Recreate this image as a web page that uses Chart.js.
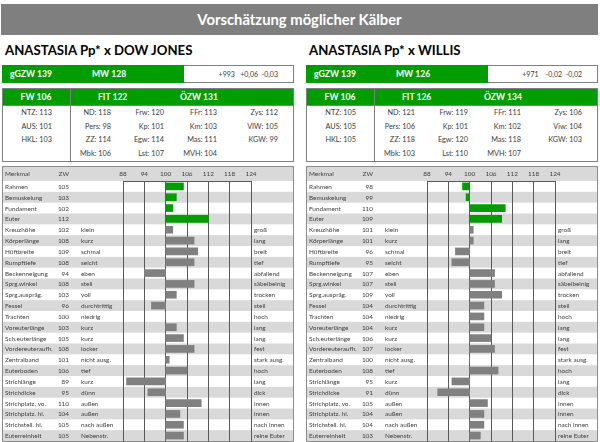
<!DOCTYPE html>
<html><head><meta charset="utf-8">
<script src="https://cdn.jsdelivr.net/npm/chart.js@4.4.1/dist/chart.umd.min.js"></script>
<style>
html,body{margin:0;padding:0;background:#fff;width:600px;height:442px;overflow:hidden;font-family:Lato,"Open Sans",sans-serif;}
#title{position:absolute;left:1px;top:4px;width:597px;height:31px;background:#7f7f7f;color:#fff;font-weight:bold;font-size:14.8px;line-height:31px;text-align:center;}
.panel{position:absolute;top:0;width:292px;height:442px;}
.t{position:absolute;white-space:pre;line-height:1;}
.box{position:absolute;box-sizing:border-box;border:1px solid #7f7f7f;background:#fff;}
.frame{position:absolute;left:0;top:166px;width:292px;height:276px;box-sizing:border-box;border:1px solid #8c8c8c;pointer-events:none;}
.cw{position:absolute;left:0;top:166px;width:292px;height:276px;}
</style>
</head><body>
<div id="title">Vorschätzung möglicher Kälber</div>
<div class="panel" id="p1" style="left:2px"></div>
<div class="panel" id="p2" style="left:306px"></div>
<script>
// ---------- data ----------
const merkmale = ["Rahmen","Bemuskelung","Fundament","Euter","Kreuzhöhe","Körperlänge","Hüftbreite","Rumpftiefe","Beckenneigung","Sprg.winkel","Sprg.auspräg.","Fessel","Trachten","Voreuterlänge","Sch.euterlänge","Vordereuteraufh.","Zentralband","Euterboden","Strichlänge","Strichdicke","Strichplatz. vo.","Strichplatz. hi.","Strichstell. hi.","Euterreinheit"];
const lowLabels = ["","","","","klein","kurz","schmal","seicht","eben","steil","voll","durchtrittig","niedrig","kurz","kurz","locker","nicht ausg.","tief","kurz","dünn","außen","außen","nach außen","Nebenstr."];
const highLabels = ["","","","","groß","lang","breit","tief","abfallend","säbelbeinig","trocken","steil","hoch","lang","lang","fest","stark ausg.","hoch","lang","dick","innen","innen","nach innen","reine Euter"];
const zwDowJones = [105,103,102,112,102,108,109,108,94,108,103,96,100,103,105,108,101,106,89,95,110,104,105,105];
const zwWillis = [98,99,110,109,101,101,96,95,107,107,109,104,104,104,106,107,100,108,95,91,105,104,104,103];
const xTicks = [88,94,100,106,112,118,124];
const baseValue = 100;
const greenRows = 4;

const titleDowJones = "ANASTASIA Pp* x DOW JONES";
const titleWillis = "ANASTASIA Pp* x WILLIS";
const topDowJones = ["gGZW 139","MW 128","+993   +0,06  -0,03"];
const topWillis = ["gGZW 139","MW 126","+971    -0,02  -0,02"];
const headDowJones = ["FW 106","FIT 122","ÖZW 131"];
const headWillis = ["FW 106","FIT 126","ÖZW 134"];
const detailDowJones = [
  ["NTZ: 113","AUS: 101","HKL: 103",""],
  ["ND: 118","Pers: 98","ZZ: 114","Mbk: 106"],
  ["Frw: 120","Kp: 101","Egw: 114","Lst: 107"],
  ["FFr: 113","Km: 103","Mas: 111","MVH: 104"],
  ["Zys: 112","VIW: 105","KGW: 99",""]
];
const detailWillis = [
  ["NTZ: 105","AUS: 105","HKL: 105",""],
  ["ND: 121","Pers: 106","ZZ: 118","Mbk: 103"],
  ["Frw: 119","Kp: 101","Egw: 120","Lst: 110"],
  ["FFr: 111","Km: 102","Mas: 118","MVH: 107"],
  ["Zys: 106","Viw: 104","KGW: 103",""]
];

// ---------- styles ----------
const GREEN = '#009c00', BARGRAY = '#808080', ROWGRAY = '#d9d9d9', TXT = '#404040', GRID = '#595959';
const FONT = 'Lato, "Open Sans", sans-serif';

function txt(parent, s, x, y, o) {
  const d = document.createElement('div');
  d.className = 't';
  d.textContent = s;
  d.style.fontSize = (o.size || 7.3) + 'px';
  d.style.fontWeight = o.bold ? 'bold' : 'normal';
  d.style.color = o.color || TXT;
  d.style.top = y + 'px';
  let tx = '0';
  if (o.align === 'right') { d.style.right = (292 - x) + 'px'; }
  else if (o.align === 'center') { d.style.left = x + 'px'; tx = '-50%'; }
  else { d.style.left = x + 'px'; }
  d.style.transform = `translate(${tx},-50%)`;
  parent.appendChild(d);
}
function rect(parent, cls, x, y, w, h, css) {
  const d = document.createElement('div');
  d.className = cls;
  d.style.cssText += `left:${x}px;top:${y}px;width:${w}px;height:${h}px;` + (css || '');
  parent.appendChild(d);
  return d;
}

const tablePlugin = {
  id: 'table',
  beforeDraw(chart, args, opts) {
    const {ctx, chartArea, scales} = chart;
    const y = scales.y, W = chart.width, n = merkmale.length;
    const h = (chartArea.bottom - chartArea.top) / n;
    ctx.save();
    ctx.fillStyle = ROWGRAY;
    ctx.fillRect(0, 0, W, chartArea.top);
    for (let i = 0; i < n; i++) {
      if (i % 2 === 1) { const yc = y.getPixelForValue(i); ctx.fillRect(0, yc - h / 2, W, h); }
    }
    ctx.restore();
  },
  afterDraw(chart, args, opts) {
    const {ctx, chartArea, scales} = chart;
    const y = scales.y, n = merkmale.length;
    ctx.save();
    ctx.font = `6.4px ${FONT}`;
    ctx.fillStyle = TXT;
    ctx.textBaseline = 'middle';
    const hy = chartArea.top / 2 + 0.5;
    ctx.textAlign = 'left'; ctx.fillText('Merkmal', 3, hy);
    ctx.textAlign = 'right'; ctx.fillText('ZW', 67, hy);
    for (let i = 0; i < n; i++) {
      const yc = y.getPixelForValue(i) + 0.5;
      ctx.textAlign = 'left';
      ctx.fillText(merkmale[i], 3, yc);
      ctx.fillText(lowLabels[i], 79, yc);
      ctx.fillText(highLabels[i], 252, yc);
      ctx.textAlign = 'right';
      ctx.fillText(String(opts.zw[i]), 67, yc);
    }
    ctx.restore();
  }
};

function buildPanel(id, title, top, head, detail, zw) {
  const p = document.getElementById(id);
  txt(p, title, 3, 51, {size: 13.2, bold: true, color: '#000'});
  // top box
  rect(p, 'box', 0, 65, 292, 18);
  rect(p, 'box', 0, 65, 182, 18, `background:${GREEN};border-color:${GREEN};`);
  txt(p, top[0], 8, 74, {size: 8.6, bold: true, color: '#fff'});
  txt(p, top[1], 90, 74, {size: 8.6, bold: true, color: '#fff'});
  txt(p, top[2], 276, 74, {size: 7, align: 'right'});
  // detail box
  rect(p, 'box', 0, 88, 292, 74);
  rect(p, 'box', 0, 88, 292, 18, `background:${GREEN};border-color:#7f7f7f;`);
  rect(p, 'box', 68, 88, 1, 74, 'border:none;background:#7f7f7f;');
  txt(p, head[0], 34, 97, {size: 8.6, bold: true, color: '#fff', align: 'center'});
  txt(p, head[1], 96, 97, {size: 8.6, bold: true, color: '#fff'});
  txt(p, head[2], 178, 97, {size: 8.6, bold: true, color: '#fff'});
  const colRight = [50, 109, 162, 215, 276];
  const rowY = [113, 127, 140, 154];
  detail.forEach((col, c) => col.forEach((s, r) => { if (s) txt(p, s, colRight[c], rowY[r], {size: 7.3, align: 'right'}); }));
  // chart
  const wrap = rect(p, 'cw', 0, 166, 292, 276);
  const cv = document.createElement('canvas');
  wrap.appendChild(cv);
  rect(p, 'frame', 0, 166, 292, 276);
  new Chart(cv, {
    type: 'bar',
    data: {
      labels: merkmale,
      datasets: [{
        data: zw.map(v => [baseValue, v]),
        backgroundColor: zw.map((v, i) => i < greenRows ? GREEN : BARGRAY),
        barThickness: 7,
        borderWidth: 0
      }]
    },
    options: {
      indexAxis: 'y',
      responsive: true,
      maintainAspectRatio: false,
      animation: false,
      events: [],
      layout: {padding: {left: 121, right: 43, top: 0, bottom: 1}},
      plugins: {legend: {display: false}, tooltip: {enabled: false}, table: {zw: zw}},
      scales: {
        x: {
          type: 'linear', position: 'top', min: xTicks[0], max: xTicks[xTicks.length - 1],
          afterBuildTicks: s => { s.ticks = xTicks.map(v => ({value: v})); },
          afterFit: s => { s.height = 15; },
          grid: {color: GRID, lineWidth: 1, drawTicks: false},
          border: {display: true, color: GRID, width: 1},
          ticks: {color: TXT, font: {family: FONT, size: 6.4}, padding: 3, maxRotation: 0, autoSkip: false}
        },
        y: {type: 'category', display: false, offset: true}
      }
    },
    plugins: [tablePlugin]
  });
}

buildPanel('p1', titleDowJones, topDowJones, headDowJones, detailDowJones, zwDowJones);
buildPanel('p2', titleWillis, topWillis, headWillis, detailWillis, zwWillis);
</script>
</body></html>
